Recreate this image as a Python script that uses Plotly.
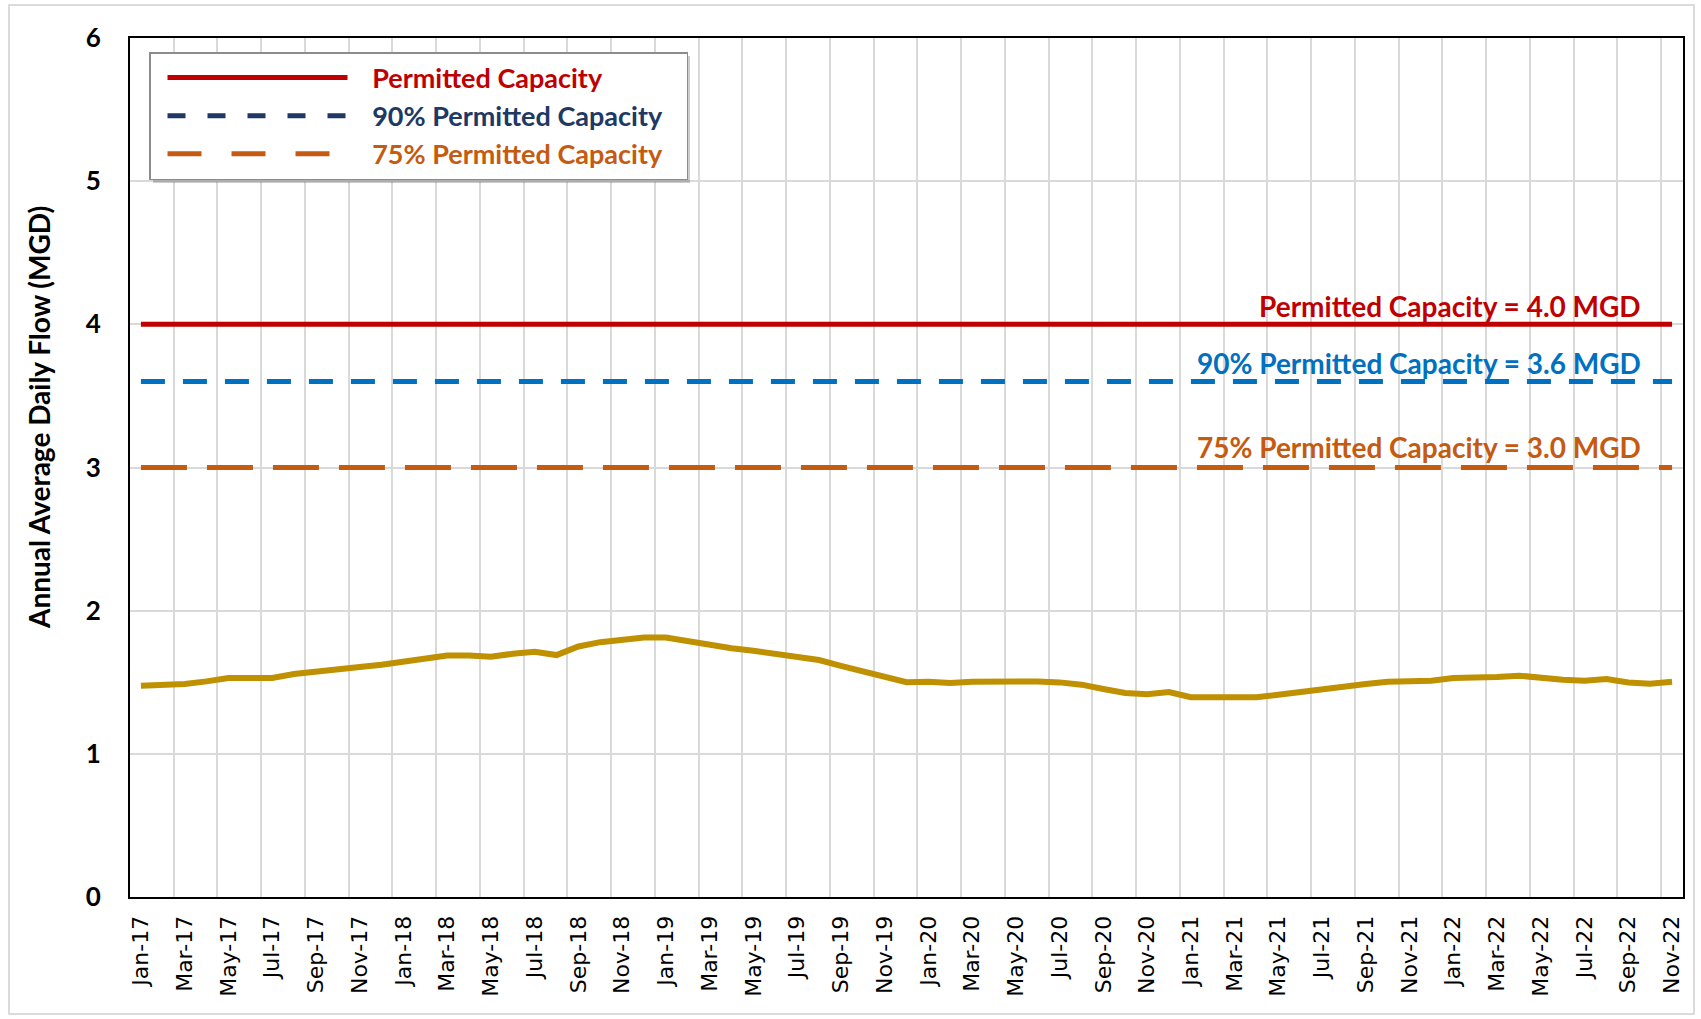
import pandas as pd
import plotly.graph_objects as go

# Monthly categories, Jan-17 through Nov-22
months = list(pd.date_range("2017-01-01", periods=71, freq="MS").strftime("%b-%y"))

# Annual average daily flow (MGD), one value per month
flow = [
    1.476, 1.483, 1.488, 1.506, 1.530, 1.530, 1.530, 1.557, 1.576, 1.596,
    1.606, 1.622, 1.645, 1.671, 1.687, 1.687, 1.678, 1.699, 1.713, 1.690,
    1.750, 1.780, 1.800, 1.812, 1.812, 1.784, 1.761, 1.738, 1.720, 1.697,
    1.669, 1.655, 1.615, 1.576, 1.546, 1.500, 1.504, 1.495, 1.504, 1.506,
    1.506, 1.506, 1.499, 1.483, 1.453, 1.425, 1.416, 1.432, 1.395, 1.395,
    1.395, 1.395, 1.413, 1.434, 1.453, 1.471, 1.488, 1.504, 1.511, 1.511,
    1.530, 1.530, 1.536, 1.546, 1.527, 1.518, 1.511, 1.523, 1.499, 1.490,
    1.504,
]

# Capacity reference levels (MGD)
permitted = 4.0
permitted_90 = 3.6
permitted_75 = 3.0

y_ticks = [0, 1, 2, 3, 4, 5, 6]

RED = "#C00000"
BLUE = "#0070C0"
NAVY = "#203864"
ORANGE = "#C55A11"
GOLD = "#BF9000"
GRID = "#D9D9D9"
FONT = "Lato"

W, H = 1701, 1019
ML, MR, MT, MB = 130, 18, 38, 122
PW, PH = W - ML - MR, H - MT - MB


def px_x(px):
    return (px - ML) / PW


def px_y(py):
    return 1 - (py - MT) / PH


xs = list(range(len(months)))

fig = go.Figure()

# Capacity lines drawn across every month
fig.add_trace(go.Scatter(x=xs, y=[permitted] * len(xs), mode="lines",
                         line=dict(color=RED, width=5), showlegend=False,
                         hoverinfo="skip"))
fig.add_trace(go.Scatter(x=xs, y=[permitted_90] * len(xs), mode="lines",
                         line=dict(color=BLUE, width=5, dash="24px,18px"),
                         showlegend=False, hoverinfo="skip"))
fig.add_trace(go.Scatter(x=xs, y=[permitted_75] * len(xs), mode="lines",
                         line=dict(color=ORANGE, width=5, dash="46px,20px"),
                         showlegend=False, hoverinfo="skip"))

# Flow series
fig.add_trace(go.Scatter(x=xs, y=flow, mode="lines",
                         line=dict(color=GOLD, width=6), showlegend=False,
                         name="Annual Average Daily Flow"))

# Legend entries
legend_items = [
    ("Permitted Capacity", RED, RED, "solid"),
    ("90% Permitted Capacity", NAVY, NAVY, "18px,22px"),
    ("75% Permitted Capacity", ORANGE, ORANGE, "34px,30px"),
]
pad = "&nbsp;&nbsp;&nbsp;"
for i, (label, lc, tc, dash) in enumerate(legend_items):
    fig.add_trace(go.Scatter(
        x=[None], y=[None], mode="lines",
        line=dict(color=lc, width=5, dash=dash),
        name=f"{pad}<span style='color:{tc}'>{label}</span>{pad}",
        legendgroup=f"g{i}", showlegend=True,
    ))

# Level labels above each capacity line
for val, label, color, shift in [
    (permitted, "Permitted Capacity", RED, 18),
    (permitted_90, "90% Permitted Capacity", BLUE, 19),
    (permitted_75, "75% Permitted Capacity", ORANGE, 21),
]:
    fig.add_annotation(
        x=px_x(1643), xref="paper", y=val, yref="y",
        text=f"{label} = {val:.1f} MGD", showarrow=False,
        xanchor="right", yanchor="middle", yshift=shift,
        font=dict(family=FONT, size=28, color=color, weight="bold"),
    )

# Y-axis title
fig.add_annotation(
    x=px_x(39), xref="paper", y=px_y(418), yref="paper",
    text="Annual Average Daily Flow (MGD)", textangle=-90, showarrow=False,
    xanchor="center", yanchor="middle",
    font=dict(family=FONT, size=28, color="black", weight="bold"),
)

# Outer chart border and legend shadow
fig.add_shape(type="rect", xref="paper", yref="paper",
              x0=px_x(9), x1=px_x(1694), y0=px_y(1014), y1=px_y(5),
              line=dict(color="#D0D0D0", width=1.5), fillcolor="rgba(0,0,0,0)",
              layer="below")
fig.add_shape(type="rect", xref="paper", yref="paper",
              x0=px_x(153), x1=px_x(690), y0=px_y(183), y1=px_y(56),
              line=dict(width=0), fillcolor="rgba(0,0,0,0.2)",
              layer="above")

fig.update_layout(
    width=W, height=H,
    margin=dict(l=ML, r=MR, t=MT, b=MB, autoexpand=False),
    paper_bgcolor="white", plot_bgcolor="white",
    font=dict(family=FONT, color="black"),
    showlegend=True,
    legend=dict(
        x=px_x(149), y=px_y(52), xanchor="left", yanchor="top",
        bgcolor="white", bordercolor="#8C8C8C", borderwidth=1.5,
        font=dict(family=FONT, size=27, weight="bold"),
        itemwidth=180, tracegroupgap=0, traceorder="normal",
        indentation=12,
        itemclick=False, itemdoubleclick=False,
    ),
    xaxis=dict(
        range=[-0.5, len(months) - 0.5],
        tickmode="array", tickvals=xs[::2], ticktext=months[::2],
        tickangle=-90, ticks="", showgrid=False, zeroline=False,
        tickfont=dict(family="DejaVu Sans", size=22, color="black"),
        showline=True, linecolor="black", linewidth=2, mirror=True,
        ticklabelstandoff=8,
        minor=dict(tick0=1.5, dtick=2, showgrid=True, gridcolor=GRID,
                   gridwidth=2, ticks=""),
    ),
    yaxis=dict(
        range=[0, 6], tickmode="array", tickvals=y_ticks,
        ticks="", showgrid=True, gridcolor=GRID, gridwidth=2, zeroline=False,
        tickfont=dict(family=FONT, size=26, color="black", weight="bold"),
        showline=True, linecolor="black", linewidth=2, mirror=True,
        ticklabelstandoff=22,
    ),
)

fig.write_html("out.html")
